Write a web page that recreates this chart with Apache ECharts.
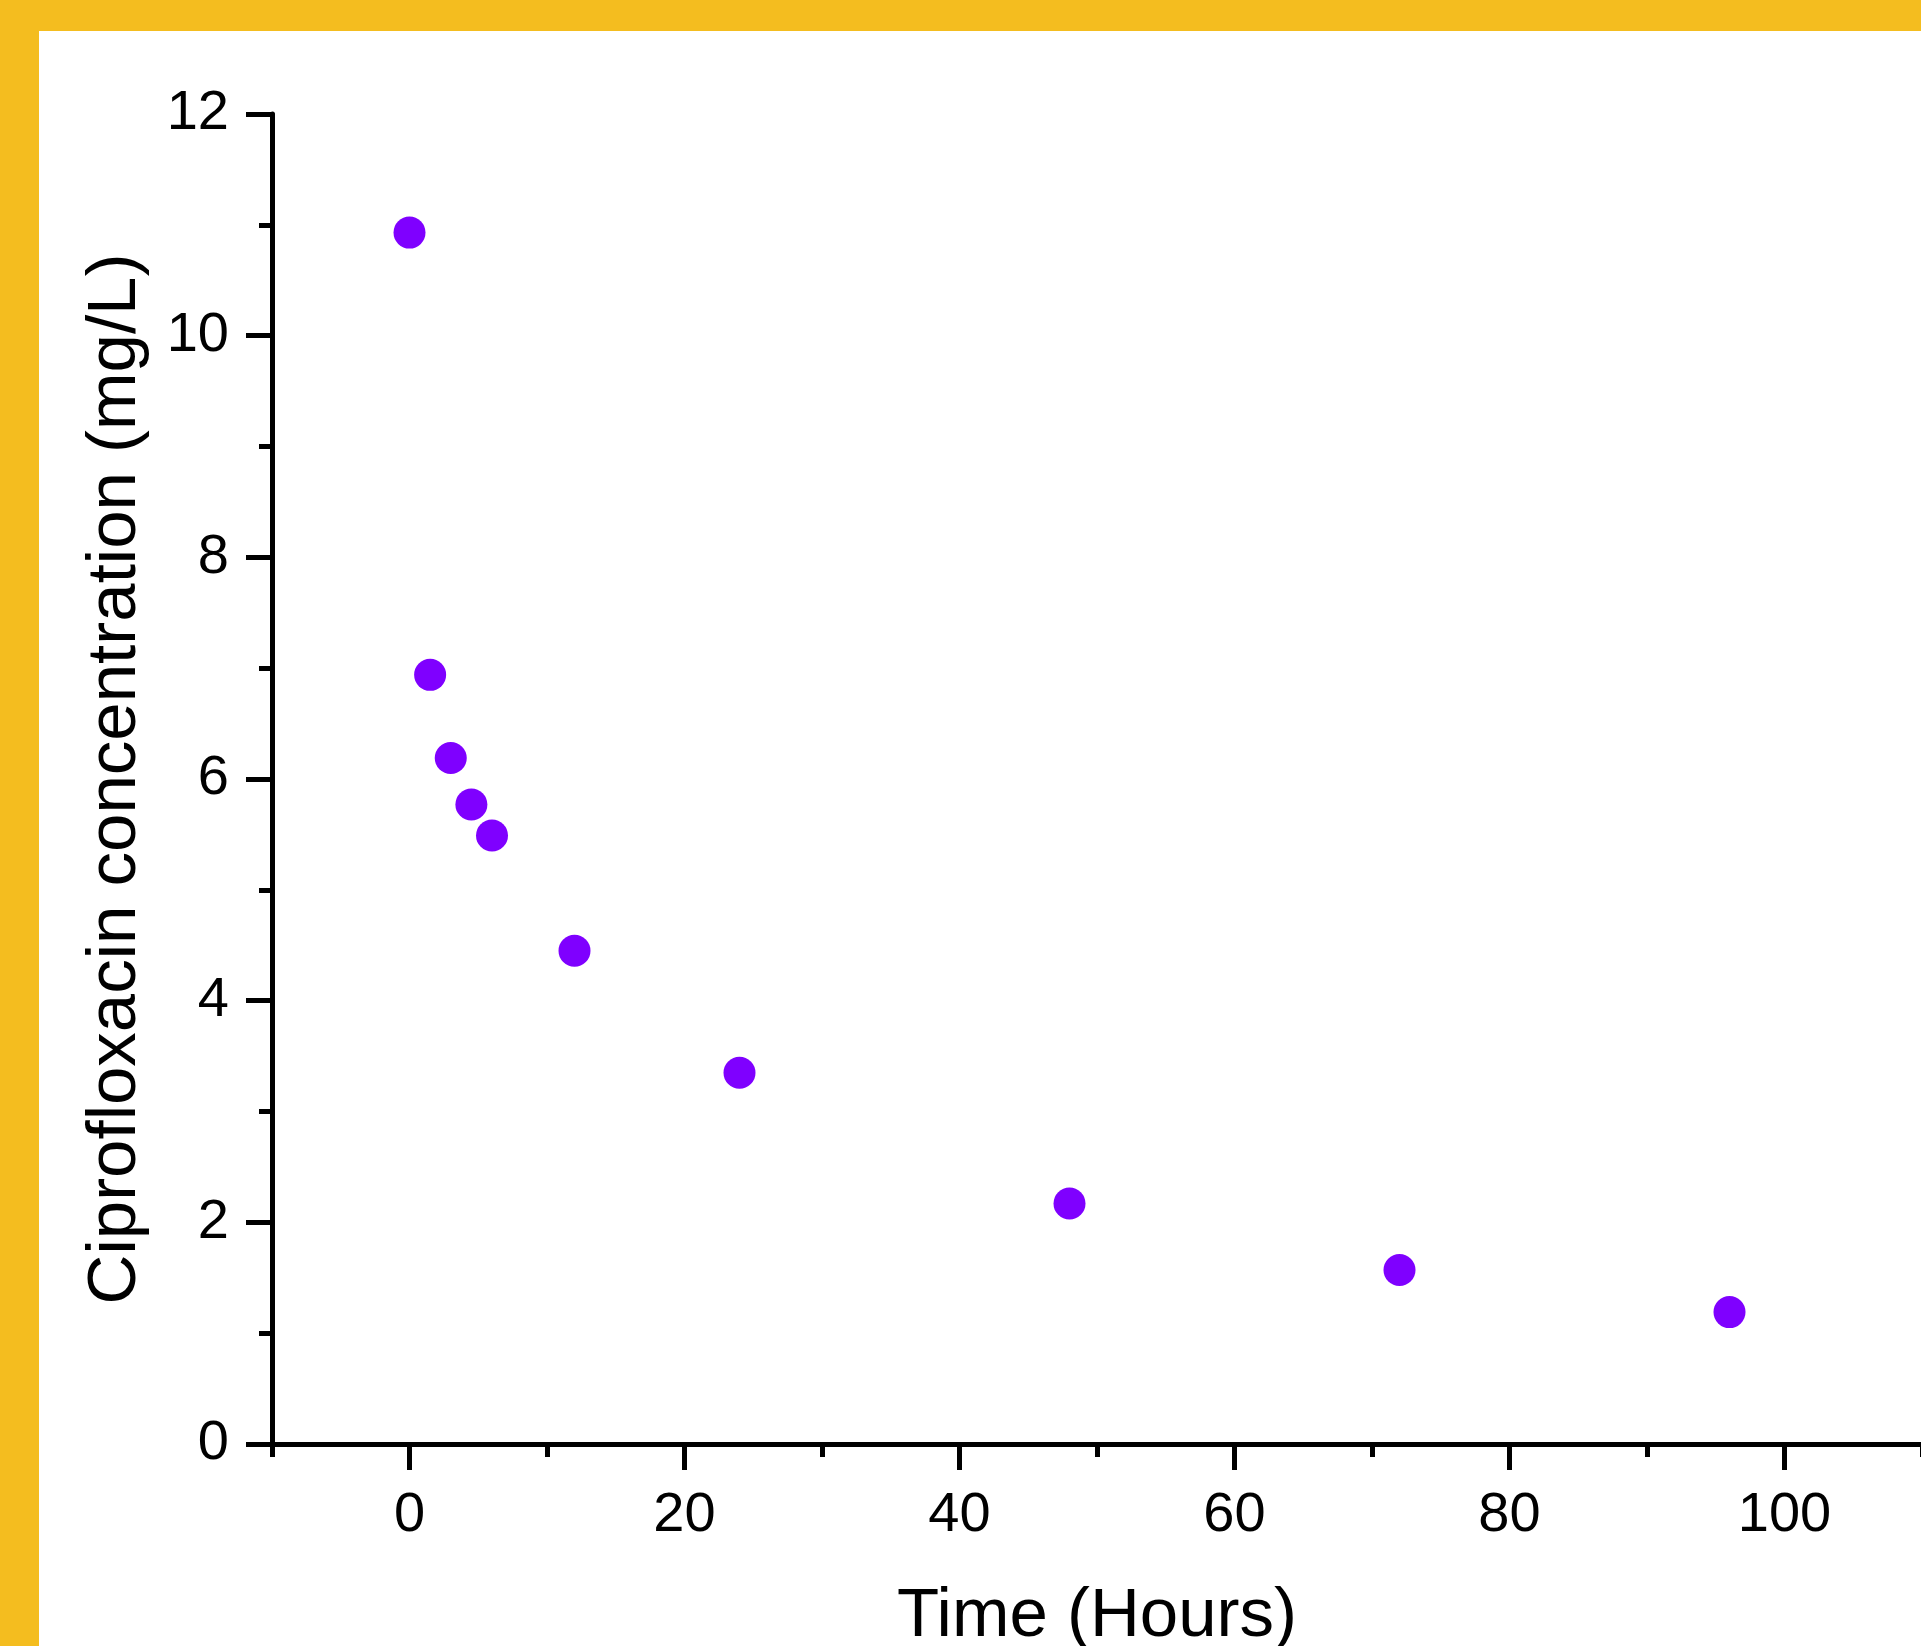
<!DOCTYPE html>
<html>
<head>
<meta charset="utf-8">
<script src="https://cdn.jsdelivr.net/npm/echarts@6/dist/echarts.min.js"></script>
<style>
  html, body { margin: 0; padding: 0; width: 1921px; height: 1646px; overflow: hidden; background: #F4BD1F; }
  #chart { position: absolute; left: 39px; top: 31px; width: 1882px; height: 1615px; background: #fff; }
</style>
</head>
<body>
<div id="chart"></div>
<script>
// time (hours) and measured concentration (mg/L)
const timeHours = [0, 1.5, 3, 4.5, 6, 12, 24, 48, 72, 96]
const concentration = [10.93, 6.94, 6.19, 5.77, 5.49, 4.45, 3.35, 2.17, 1.57, 1.19]

// axis ticks
const xMajorTicks = [0, 20, 40, 60, 80, 100]
const xMinorTicks = [-10, 10, 30, 50, 70, 90, 110]
const yMajorTicks = [0, 2, 4, 6, 8, 10, 12]
const yMinorTicks = [1, 3, 5, 7, 9, 11]

const fontFamily = 'Liberation Sans, Arial, sans-serif'
const black = '#000'

const chart = echarts.init(document.getElementById('chart'))

const points = timeHours.map((t, i) => [t, concentration[i]])

chart.setOption({
  backgroundColor: '#fff',
  animation: false,
  textStyle: { fontFamily: fontFamily },
  // the picture is cropped, so let the axis title run off the bottom edge
  grid: { left: 233, right: -1, top: 83, bottom: 202, containLabel: false, outerBoundsMode: 'none' },
  xAxis: [
    {
      type: 'value',
      position: 'bottom',
      min: -10,
      max: 110,
      name: 'Time (Hours)',
      nameLocation: 'middle',
      nameGap: 138,
      nameTextStyle: { fontSize: 69, color: black, fontFamily: fontFamily },
      axisLine: { show: true, onZero: false, lineStyle: { color: black, width: 5 } },
      axisTick: { show: true, inside: false, length: 26, customValues: xMajorTicks, lineStyle: { color: black, width: 5 } },
      axisLabel: { show: true, margin: 44, fontSize: 56, color: black, fontFamily: fontFamily, customValues: xMajorTicks },
      splitLine: { show: false }
    },
    {
      // minor ticks only
      type: 'value',
      position: 'bottom',
      min: -10,
      max: 110,
      axisLine: { show: false, onZero: false },
      axisTick: { show: true, inside: false, length: 13, customValues: xMinorTicks, lineStyle: { color: black, width: 5 } },
      axisLabel: { show: false },
      splitLine: { show: false }
    }
  ],
  yAxis: [
    {
      type: 'value',
      position: 'left',
      min: 0,
      max: 12,
      name: 'Ciprofloxacin concentration (mg/L)',
      nameLocation: 'middle',
      nameGap: 122,
      nameTextStyle: { fontSize: 69, color: black, fontFamily: fontFamily },
      axisLine: { show: true, onZero: false, lineStyle: { color: black, width: 5 } },
      axisTick: { show: true, inside: false, length: 26, customValues: yMajorTicks, lineStyle: { color: black, width: 5 } },
      axisLabel: { show: true, margin: 43, fontSize: 56, color: black, fontFamily: fontFamily, customValues: yMajorTicks },
      splitLine: { show: false }
    },
    {
      // minor ticks only
      type: 'value',
      position: 'left',
      min: 0,
      max: 12,
      axisLine: { show: false, onZero: false },
      axisTick: { show: true, inside: false, length: 13, customValues: yMinorTicks, lineStyle: { color: black, width: 5 } },
      axisLabel: { show: false },
      splitLine: { show: false }
    }
  ],
  series: [
    {
      name: 'Ciprofloxacin',
      type: 'scatter',
      xAxisIndex: 0,
      yAxisIndex: 0,
      data: points,
      symbol: 'circle',
      symbolSize: 32,
      itemStyle: { color: '#7F00FF', opacity: 1 }
    }
  ]
})
</script>
</body>
</html>
